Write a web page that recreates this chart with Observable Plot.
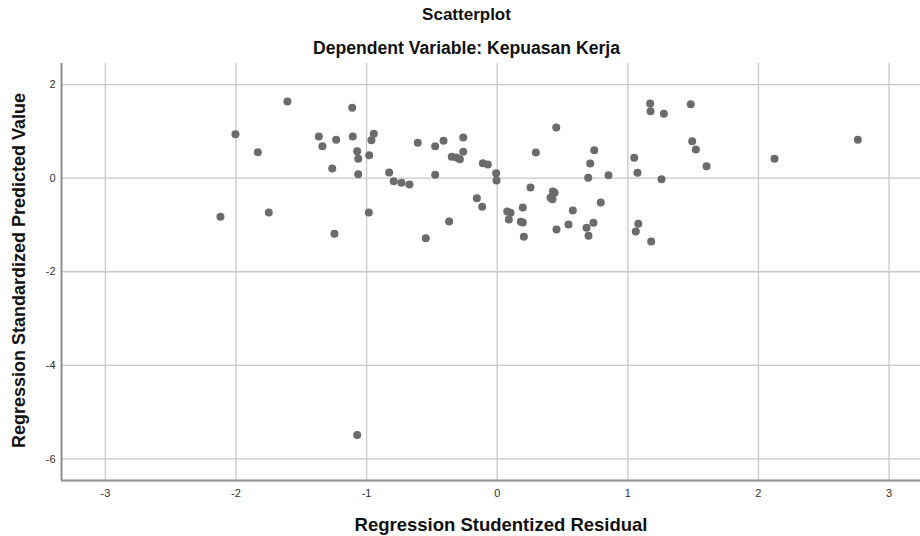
<!DOCTYPE html>
<html><head><meta charset="utf-8">
<script src="https://cdn.jsdelivr.net/npm/d3@7"></script>
<script src="https://cdn.jsdelivr.net/npm/@observablehq/plot@0.6"></script>
<style>body{margin:0;background:#fff;} svg{display:block}</style>
</head><body><div id="chart"></div>
<script>
const residual = [-1.606,-2.004,-1.833,-2.119,-1.749,-1.366,-1.338,-1.233,-1.263,-1.246,
  -1.110,-1.106,-1.072,-1.064,-1.064,-0.980,-0.945,-0.963,-0.983,-0.827,
  -0.792,-0.733,-0.672,-0.608,-0.547,-0.475,-0.475,-0.411,-0.368,-0.348,
  -0.312,-0.286,-0.260,-0.260,-0.156,-0.115,-0.110,-0.072,-0.008,-0.005,
  0.077,0.102,0.089,0.196,0.181,0.196,0.204,0.255,0.296,0.452,
  0.426,0.439,0.408,0.423,0.454,0.546,0.579,0.684,0.699,0.737,
  0.697,0.712,0.743,0.793,0.852,1.171,1.174,1.276,1.482,1.049,
  1.074,1.258,1.493,1.521,1.603,1.080,1.061,1.179,2.123,2.761,-1.072];
const predicted = [1.64,0.94,0.556,-0.825,-0.733,0.89,0.684,0.82,0.207,-1.19,
  1.504,0.891,0.577,0.414,0.085,0.491,0.949,0.812,-0.733,0.122,
  -0.064,-0.098,-0.135,0.756,-1.282,0.684,0.072,0.799,-0.925,0.457,
  0.442,0.406,0.870,0.564,-0.427,-0.611,0.321,0.293,0.107,-0.049,
  -0.712,-0.740,-0.882,-0.626,-0.932,-0.947,-1.252,-0.199,0.549,1.083,
  -0.284,-0.312,-0.419,-0.449,-1.096,-0.989,-0.690,-1.060,-1.231,-0.953,
  0.009,0.314,0.598,-0.519,0.064,1.596,1.432,1.376,1.581,0.436,
  0.115,-0.021,0.791,0.613,0.256,-0.975,-1.139,-1.353,0.414,0.820,-5.49];
const xTicks = [-3,-2,-1,0,1,2,3];
const yTicks = [-6,-4,-2,0,2];
const xDomain = [-3.336, 3.241];
const yDomain = [-6.46, 2.45];
const titleText = "Scatterplot";
const subtitleText = "Dependent Variable: Kepuasan Kerja";
const xLabel = "Regression Studentized Residual";
const yLabel = "Regression Standardized Predicted Value";

const points = residual.map((x, i) => ({x, y: predicted[i]}));
const gridStyle = {stroke: "#c8c8c8", strokeOpacity: 1, strokeWidth: 1.3};
const axisStyle = {stroke: "#8e8e8e", strokeWidth: 2};
const fmt = d => String(d);

const chart = Plot.plot({
  width: 920, height: 536,
  marginLeft: 61, marginRight: 0, marginTop: 63, marginBottom: 56,
  style: {fontFamily: "'Liberation Sans', Arial, sans-serif", background: "#fff", color: "#222"},
  x: {domain: xDomain},
  y: {domain: yDomain},
  marks: [
    Plot.gridX(xTicks, gridStyle),
    Plot.gridY(yTicks, gridStyle),
    Plot.axisX(xTicks, {tickSize: 0, tickPadding: 9, fontSize: 11, label: null, fill: "#333", tickFormat: fmt}),
    Plot.axisY(yTicks, {tickSize: 0, tickPadding: 6, fontSize: 11, label: null, fill: "#333", tickFormat: fmt}),
    Plot.ruleX([xDomain[0]], axisStyle),
    Plot.ruleY([yDomain[0]], axisStyle),
    Plot.dot(points, {x: "x", y: "y", r: 4, fill: "#6b6b6b", stroke: "none"}),
    Plot.text([titleText], {frameAnchor: "top", lineAnchor: "middle", dx: -24.5, dy: -48.5, fontSize: 17, fontWeight: "bold", fill: "#111"}),
    Plot.text([subtitleText], {frameAnchor: "top", lineAnchor: "middle", dx: -24.5, dy: -15.5, fontSize: 17.6, fontWeight: "bold", fill: "#111"}),
    Plot.text([xLabel], {frameAnchor: "bottom", lineAnchor: "middle", dx: 10, dy: 44.5, fontSize: 18.5, fontWeight: "bold", fill: "#111"}),
    Plot.text([yLabel], {frameAnchor: "left", lineAnchor: "middle", textAnchor: "middle", dx: -42, dy: -1.5, rotate: -90, fontSize: 18, fontWeight: "bold", fill: "#111"})
  ]
});
document.getElementById("chart").appendChild(chart);
</script>
</body></html>
